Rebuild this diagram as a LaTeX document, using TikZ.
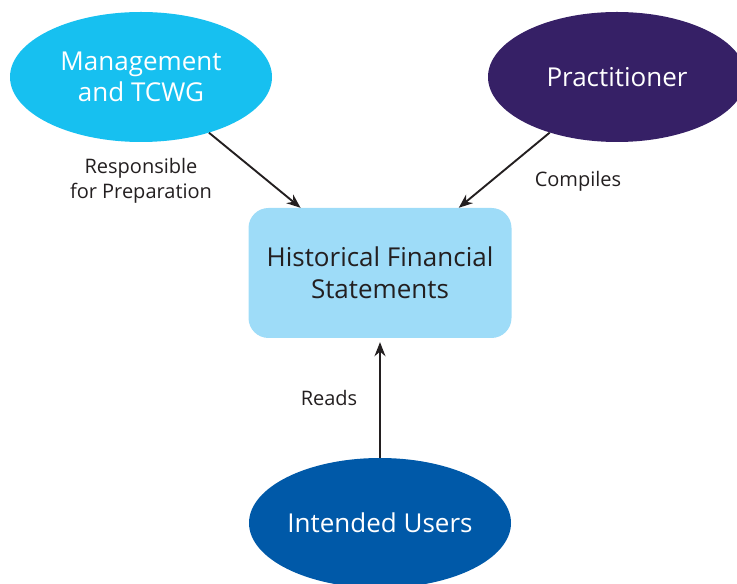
\documentclass[tikz,border=0pt]{standalone}
\usepackage{fontspec}
\setmainfont{Open Sans}
\usetikzlibrary{arrows.meta, shapes.geometric, positioning}
\definecolor{mgmtblue}{RGB}{23,192,240}
\definecolor{pracpurple}{RGB}{54,32,102}
\definecolor{hfsblue}{RGB}{158,220,248}
\definecolor{userblue}{RGB}{0,89,168}
\definecolor{labelgray}{RGB}{35,31,32}

\begin{document}
\begin{tikzpicture}[x=1pt,y=1pt,
  party/.style={ellipse,minimum width=262pt,minimum height=130pt,inner sep=0pt,
    text=white,align=center,font=\fontsize{26}{31}\selectfont},
  docbox/.style={rectangle,rounded corners=20pt,fill=hfsblue,minimum width=263pt,
    minimum height=130pt,inner sep=0pt,text=labelgray,align=center,
    font=\fontsize{26}{32}\selectfont},
  edgelabel/.style={text=labelgray,align=center,font=\fontsize{20}{25}\selectfont},
  flow/.style={-{Stealth[length=14pt,width=11pt]},line width=1.9pt,labelgray}]
\useasboundingbox (0,0) rectangle (737,584);
% Parties and statements
\node[party,fill=mgmtblue](mgmt) at (141,507){Management\\and TCWG};
\node[party,fill=pracpurple,minimum width=258pt](prac) at (617,507){Practitioner};
\node[docbox](hfs) at (380,311){Historical Financial\\Statements};
\node[party,fill=userblue](users) at (380,61){Intended Users};
% Labels
\node[edgelabel](lresp) at (141,403){Responsible\\for Preparation};
\node[edgelabel](lcomp) at (578,403){Compiles};
\node[edgelabel](lread) at (329,186){Reads};
% Arrows
\draw[flow] (mgmt) -- (hfs);
\draw[flow] (prac) -- (hfs);
\draw[flow] (users) -- ([yshift=-4pt]hfs.south);
\end{tikzpicture}
\end{document}
